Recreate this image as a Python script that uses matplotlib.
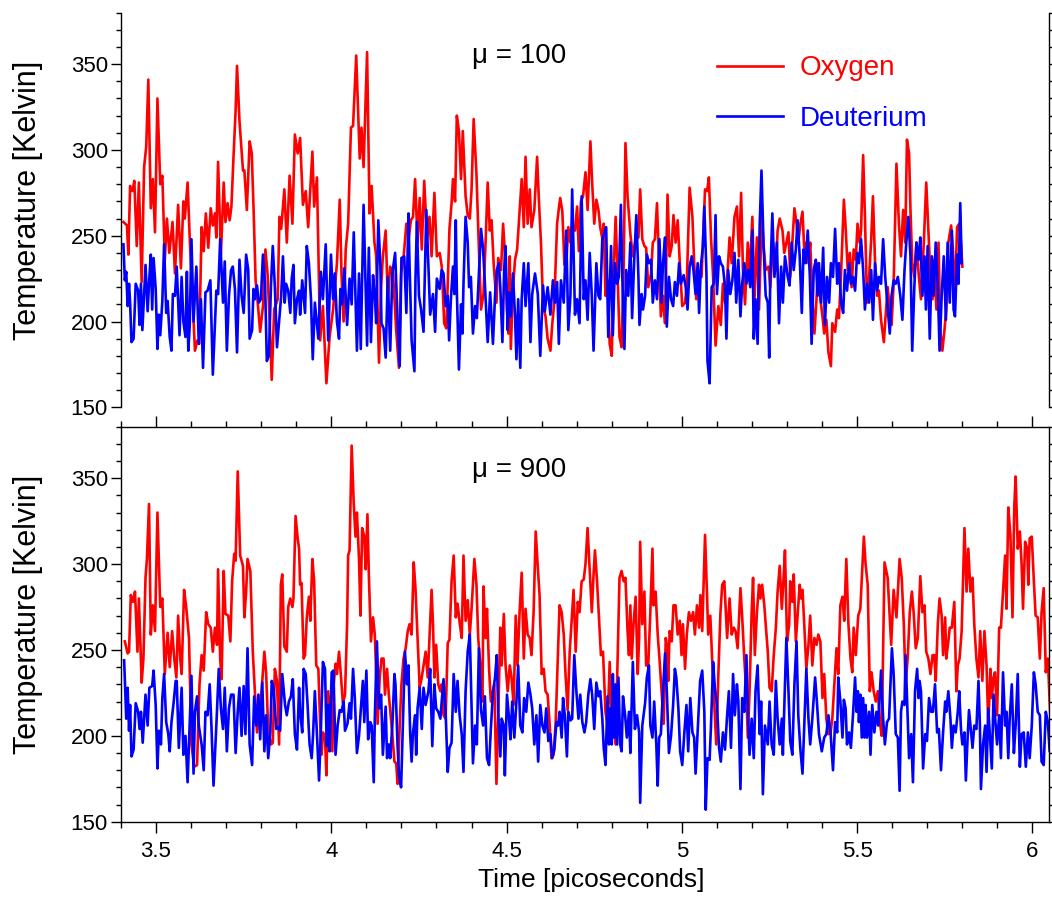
"""
Temperature traces of oxygen and deuterium vs. time, for two values of mu.
Two stacked panels sharing the time axis.
"""
import matplotlib
matplotlib.use("Agg")
import matplotlib.pyplot as plt
import numpy as np
from matplotlib.ticker import MultipleLocator

# ==========================================================================
# Data (time [ps], temperature [K])
# ==========================================================================
MU_LABELS = ["\u03bc = 100", "\u03bc = 900"]
SERIES_NAMES = ["Oxygen", "Deuterium"]
SERIES_COLORS = ["#ff0000", "#0000ff"]

# --- mu = 100 -------------------------------------------------------------
TOP_OXYGEN = [
    (3.407, 258), (3.417, 256), (3.421, 239), (3.426, 279), (3.433, 276), (3.438, 282), (3.445, 244), (3.451, 281),
    (3.459, 223), (3.466, 290), (3.472, 302), (3.478, 341), (3.485, 266), (3.491, 283), (3.497, 252), (3.504, 330),
    (3.512, 280), (3.518, 285), (3.525, 236), (3.531, 260), (3.538, 240), (3.547, 258), (3.554, 228), (3.563, 268),
    (3.571, 231), (3.578, 270), (3.582, 260), (3.590, 281), (3.596, 249), (3.611, 183), (3.618, 189), (3.623, 187),
    (3.630, 255), (3.636, 241), (3.642, 263), (3.649, 243), (3.656, 266), (3.662, 256), (3.668, 263), (3.672, 249),
    (3.677, 293), (3.685, 239), (3.693, 281), (3.698, 258), (3.704, 269), (3.710, 259), (3.715, 267), (3.721, 296),
    (3.727, 323), (3.731, 349), (3.738, 317), (3.748, 288), (3.752, 288), (3.759, 265), (3.767, 305), (3.773, 298),
    (3.778, 267), (3.784, 224), (3.790, 211), (3.797, 194), (3.805, 209), (3.812, 242), (3.818, 228), (3.824, 201),
    (3.830, 166), (3.837, 207), (3.847, 213),
    (3.852, 261), (3.857, 254), (3.866, 277), (3.873, 246), (3.881, 285), (3.889, 257), (3.896, 309), (3.904, 298),
    (3.911, 307), (3.919, 268), (3.927, 276), (3.934, 255), (3.946, 299), (3.951, 267), (3.959, 284), (3.968, 189),
    (3.976, 209), (3.986, 164), (3.995, 191), (4.005, 207), (4.016, 234), (4.024, 271), (4.029, 228), (4.035, 200),
    (4.041, 242), (4.048, 257), (4.056, 313), (4.062, 314), (4.071, 355), (4.081, 295), (4.086, 313), (4.092, 290),
    (4.102, 357), (4.109, 263), (4.115, 279), (4.123, 246), (4.128, 238), (4.136, 176), (4.142, 220), (4.147, 238),
    (4.155, 253), (4.161, 213), (4.168, 232), (4.176, 228), (4.185, 195), (4.193, 173), (4.199, 228), (4.206, 237),
    (4.214, 257), (4.221, 249), (4.227, 259), (4.233, 261), (4.239, 283), (4.246, 246), (4.252, 272), (4.258, 242),
    (4.265, 282), (4.273, 248), (4.280, 261), (4.286, 238), (4.294, 275), (4.301, 238), (4.309, 240),
    (4.315, 232), (4.322, 199), (4.328, 196), (4.334, 234), (4.337, 254), (4.343, 269), (4.347, 283), (4.353, 270),
    (4.358, 320), (4.364, 311), (4.370, 283), (4.375, 311), (4.383, 273), (4.389, 262), (4.395, 260), (4.400, 277),
    (4.406, 318), (4.414, 286), (4.421, 242), (4.427, 207), (4.434, 216), (4.440, 246), (4.446, 281), (4.452, 253),
    (4.457, 259), (4.463, 234), (4.471, 211), (4.476, 237), (4.484, 230), (4.490, 257), (4.495, 240), (4.501, 207),
    (4.505, 193), (4.509, 238), (4.512, 184), (4.518, 219), (4.524, 236), (4.530, 242), (4.535, 258), (4.543, 283),
    (4.549, 255), (4.554, 296), (4.560, 257), (4.566, 277), (4.571, 255), (4.579, 265), (4.587, 296), (4.592, 271),
    (4.598, 246), (4.604, 209), (4.611, 203), (4.617, 190), (4.625, 183), (4.630, 198), (4.636, 211), (4.644, 257),
    (4.649, 266), (4.653, 272), (4.659, 264), (4.665, 233), (4.670, 233), (4.676, 255), (4.682, 246), (4.687, 257),
    (4.695, 253), (4.701, 267), (4.706, 241), (4.712, 270), (4.718, 273), (4.725, 287), (4.731, 265), (4.739, 305),
    (4.744, 281), (4.750, 257), (4.756, 271), (4.762, 265), (4.767, 255), (4.775, 246),
    (4.777, 257), (4.782, 215), (4.788, 224), (4.794, 187), (4.800, 180), (4.805, 228), (4.811, 261), (4.817, 224),
    (4.822, 191), (4.828, 185), (4.834, 234), (4.839, 304), (4.845, 273), (4.853, 251), (4.860, 238), (4.868, 248),
    (4.876, 249), (4.881, 277), (4.887, 248), (4.893, 244), (4.898, 243), (4.904, 220), (4.912, 228), (4.917, 246),
    (4.923, 248), (4.929, 269), (4.935, 234), (4.940, 203), (4.946, 215), (4.952, 199), (4.959, 274), (4.965, 238),
    (4.971, 244), (4.976, 262), (4.982, 246), (4.988, 259), (4.995, 230), (5.001, 209), (5.009, 211), (5.014, 222),
    (5.022, 278), (5.030, 261), (5.035, 234), (5.041, 213), (5.049, 229), (5.056, 226), (5.066, 277), (5.072, 276),
    (5.077, 284), (5.083, 249), (5.089, 226), (5.096, 186), (5.104, 209), (5.111, 198), (5.117, 222), (5.123, 211),
    (5.130, 228), (5.136, 249), (5.142, 234), (5.150, 261), (5.157, 267), (5.163, 238), (5.169, 275), (5.174, 231),
    (5.180, 210), (5.188, 246), (5.193, 226), (5.201, 261), (5.207, 213), (5.214, 249), (5.220, 207), (5.228, 262),
    (5.233, 244),
    (5.239, 230), (5.247, 232), (5.252, 220), (5.260, 246), (5.268, 230), (5.273, 253), (5.279, 260), (5.287, 253),
    (5.292, 240), (5.298, 246), (5.304, 252), (5.309, 226), (5.315, 246), (5.321, 266), (5.327, 257), (5.332, 246),
    (5.338, 257), (5.344, 264), (5.349, 242), (5.355, 246), (5.361, 234), (5.366, 246), (5.372, 215), (5.378, 193),
    (5.384, 213), (5.389, 234), (5.395, 213), (5.401, 203), (5.406, 193), (5.412, 201), (5.418, 182), (5.425, 174),
    (5.429, 199), (5.437, 194), (5.443, 207), (5.448, 202), (5.454, 228), (5.462, 271), (5.467, 255), (5.473, 230),
    (5.479, 240), (5.484, 220), (5.490, 242), (5.496, 236), (5.501, 257), (5.507, 246), (5.511, 253), (5.517, 297),
    (5.522, 262), (5.528, 211), (5.534, 226), (5.540, 248), (5.545, 273), (5.551, 234), (5.557, 215), (5.562, 218),
    (5.568, 201), (5.576, 188), (5.581, 203), (5.587, 220), (5.593, 207), (5.598, 198), (5.604, 222), (5.612, 292),
    (5.619, 257), (5.625, 238), (5.631, 265), (5.637, 246), (5.642, 306), (5.648, 298), (5.652, 265), (5.657, 234),
    (5.663, 226), (5.669, 246), (5.676, 226), (5.682, 213), (5.690, 246), (5.697, 281), (5.703, 253), (5.709, 226),
    (5.715, 213), (5.720, 236), (5.726, 207), (5.732, 246), (5.737, 195), (5.743, 183), (5.749, 195), (5.754, 207),
    (5.760, 246), (5.768, 256), (5.773, 242), (5.779, 215), (5.785, 255), (5.791, 257), (5.796, 246), (5.800, 232),
]

TOP_DEUTERIUM = [
    (3.407, 245), (3.411, 224), (3.415, 229), (3.419, 209), (3.423, 222), (3.426, 211), (3.430, 188), (3.436, 190),
    (3.442, 222), (3.449, 218), (3.453, 198), (3.457, 222), (3.461, 195), (3.470, 233), (3.476, 206), (3.480, 222),
    (3.485, 239), (3.489, 207), (3.493, 237), (3.499, 219), (3.504, 184), (3.508, 204), (3.512, 192), (3.518, 212),
    (3.523, 245), (3.529, 205), (3.533, 212), (3.539, 191), (3.544, 183), (3.548, 216), (3.554, 215), (3.559, 232),
    (3.567, 192), (3.573, 226), (3.578, 200), (3.584, 191), (3.588, 229), (3.592, 183), (3.596, 197), (3.601, 248),
    (3.607, 200), (3.615, 232), (3.622, 187), (3.628, 213), (3.634, 173), (3.641, 217), (3.647, 218), (3.655, 224),
    (3.662, 169), (3.672, 218), (3.677, 216), (3.683, 248), (3.691, 211), (3.696, 235), (3.702, 183), (3.708, 215),
    (3.714, 230), (3.719, 232), (3.725, 219), (3.731, 182), (3.738, 236), (3.744, 215), (3.750, 205), (3.757, 239),
    (3.763, 230), (3.767, 190), (3.774, 195), (3.778, 219), (3.782, 213), (3.788, 221), (3.793, 211), (3.799, 213),
    (3.805, 239), (3.811, 222), (3.816, 177), (3.822, 180), (3.828, 222), (3.833, 244), (3.839, 220), (3.845, 185),
    (3.857, 215), (3.862, 238), (3.867, 211), (3.871, 222), (3.877, 218), (3.883, 205), (3.887, 225), (3.892, 233),
    (3.896, 199), (3.902, 213), (3.908, 218), (3.911, 204), (3.917, 224), (3.925, 205), (3.930, 244), (3.936, 234),
    (3.942, 213), (3.947, 178), (3.953, 211), (3.963, 190), (3.970, 229), (3.976, 213), (3.984, 245), (3.991, 189),
    (3.999, 239), (4.005, 213), (4.010, 228), (4.016, 200), (4.022, 190), (4.026, 219), (4.031, 210), (4.037, 231),
    (4.045, 198), (4.052, 225), (4.058, 210), (4.064, 252), (4.073, 183), (4.079, 228), (4.084, 184), (4.092, 268),
    (4.102, 186), (4.107, 243), (4.113, 188), (4.119, 227), (4.124, 215), (4.128, 199), (4.134, 259), (4.140, 232),
    (4.143, 199), (4.149, 196), (4.155, 179), (4.161, 226), (4.168, 183), (4.174, 228), (4.182, 240), (4.189, 201),
    (4.195, 174), (4.200, 237), (4.208, 238), (4.214, 205), (4.220, 263), (4.223, 234), (4.229, 189), (4.237, 171),
    (4.240, 224), (4.244, 258), (4.250, 215), (4.256, 207), (4.263, 194), (4.271, 265), (4.277, 232), (4.282, 204),
    (4.290, 216), (4.296, 194), (4.301, 225), (4.309, 219),
    (4.315, 230), (4.320, 228), (4.326, 209), (4.332, 215), (4.336, 189), (4.341, 213), (4.347, 232), (4.351, 216),
    (4.355, 259), (4.358, 218), (4.364, 172), (4.370, 210), (4.374, 193), (4.377, 222), (4.383, 261), (4.389, 246),
    (4.393, 220), (4.398, 226), (4.404, 193), (4.410, 209), (4.415, 202), (4.423, 236), (4.427, 254), (4.433, 242),
    (4.438, 222), (4.446, 188), (4.453, 217), (4.461, 187), (4.467, 215), (4.472, 230), (4.478, 234), (4.482, 220),
    (4.488, 188), (4.493, 230), (4.497, 244), (4.503, 195), (4.507, 217), (4.512, 203), (4.518, 228), (4.524, 203),
    (4.528, 178), (4.533, 213), (4.539, 173), (4.543, 213), (4.549, 234), (4.554, 209), (4.562, 234), (4.568, 188),
    (4.573, 216), (4.581, 228), (4.589, 216), (4.596, 180), (4.604, 221), (4.609, 206), (4.617, 220), (4.625, 204),
    (4.632, 224), (4.638, 211), (4.644, 223), (4.649, 187), (4.655, 224), (4.663, 211), (4.670, 253), (4.676, 195),
    (4.682, 215), (4.687, 277), (4.695, 204), (4.701, 213), (4.708, 199), (4.714, 273), (4.720, 213), (4.725, 224),
    (4.731, 201), (4.737, 240), (4.743, 215), (4.748, 183), (4.756, 234), (4.762, 215), (4.767, 213), (4.773, 248),
    (4.784, 255), (4.790, 191), (4.798, 244), (4.803, 192), (4.809, 234), (4.815, 222), (4.820, 226), (4.826, 268),
    (4.830, 226), (4.836, 184), (4.841, 230), (4.847, 215), (4.853, 246), (4.858, 202), (4.864, 236), (4.870, 262),
    (4.876, 226), (4.879, 198), (4.885, 216), (4.889, 207), (4.895, 215), (4.900, 239), (4.906, 234), (4.912, 236),
    (4.917, 211), (4.923, 224), (4.929, 213), (4.936, 248), (4.942, 211), (4.946, 234), (4.952, 249), (4.957, 197),
    (4.963, 226), (4.969, 213), (4.975, 209), (4.980, 223), (4.986, 215), (4.992, 234), (4.997, 222), (5.005, 227),
    (5.011, 220), (5.016, 207), (5.022, 232), (5.028, 238), (5.033, 230), (5.039, 216), (5.045, 234), (5.049, 205),
    (5.054, 232), (5.060, 244), (5.064, 267), (5.070, 228), (5.073, 177), (5.079, 164), (5.085, 220), (5.091, 222),
    (5.096, 262), (5.100, 216), (5.106, 238), (5.111, 234), (5.117, 232), (5.123, 220), (5.127, 190), (5.132, 230),
    (5.138, 216), (5.144, 224), (5.150, 240), (5.155, 211), (5.161, 236), (5.167, 203), (5.172, 222), (5.178, 234),
    (5.184, 222), (5.189, 230), (5.195, 220), (5.201, 253), (5.205, 190), (5.210, 213), (5.216, 187), (5.222, 257),
    (5.227, 288), (5.233, 244),
    (5.239, 215), (5.245, 211), (5.249, 179), (5.252, 225), (5.258, 263), (5.264, 226), (5.271, 246), (5.277, 199),
    (5.283, 232), (5.288, 211), (5.294, 238), (5.302, 226), (5.307, 221), (5.313, 246), (5.319, 230), (5.325, 242),
    (5.330, 259), (5.336, 238), (5.342, 205), (5.347, 242), (5.353, 234), (5.359, 253), (5.365, 226), (5.370, 187),
    (5.376, 230), (5.382, 236), (5.387, 215), (5.391, 234), (5.397, 211), (5.403, 243), (5.408, 198), (5.414, 226),
    (5.420, 211), (5.425, 234), (5.431, 226), (5.437, 254), (5.443, 222), (5.448, 234), (5.454, 211), (5.460, 205),
    (5.465, 230), (5.471, 218), (5.477, 234), (5.482, 222), (5.488, 226), (5.494, 218), (5.500, 240), (5.505, 234),
    (5.511, 248), (5.517, 230), (5.522, 207), (5.528, 222), (5.534, 211), (5.540, 230), (5.545, 201), (5.551, 234),
    (5.557, 218), (5.562, 226), (5.568, 222), (5.574, 248), (5.580, 226), (5.585, 213), (5.593, 193), (5.598, 215),
    (5.604, 224), (5.610, 222), (5.616, 226), (5.623, 215), (5.629, 201), (5.635, 230), (5.640, 246), (5.646, 261),
    (5.652, 238), (5.657, 183), (5.663, 220), (5.669, 246), (5.675, 236), (5.680, 249), (5.686, 215), (5.692, 238),
    (5.696, 207), (5.701, 244), (5.707, 190), (5.713, 238), (5.718, 215), (5.724, 246), (5.730, 220), (5.735, 183),
    (5.741, 215), (5.747, 238), (5.753, 201), (5.758, 246), (5.764, 211), (5.770, 253), (5.775, 207), (5.779, 203),
    (5.785, 239), (5.789, 222), (5.794, 269), (5.798, 234),
]

# --- mu = 900 -------------------------------------------------------------
BOTTOM_OXYGEN = [
    (3.411, 255), (3.419, 248), (3.423, 249), (3.428, 282), (3.434, 278), (3.440, 284), (3.447, 249), (3.451, 280),
    (3.459, 231), (3.464, 245), (3.470, 292), (3.474, 303), (3.480, 335), (3.485, 259), (3.491, 276), (3.497, 261),
    (3.504, 330), (3.512, 275), (3.518, 280), (3.525, 236), (3.533, 260), (3.539, 240), (3.546, 261), (3.552, 245),
    (3.558, 234), (3.563, 270), (3.569, 245), (3.573, 236), (3.580, 285), (3.586, 275), (3.594, 257), (3.601, 195),
    (3.609, 182), (3.617, 183), (3.624, 230), (3.630, 247), (3.636, 238), (3.643, 272), (3.649, 265), (3.656, 263),
    (3.662, 249), (3.668, 263), (3.674, 253), (3.677, 297), (3.683, 245), (3.687, 233), (3.693, 296), (3.698, 271),
    (3.706, 270), (3.712, 255), (3.717, 290), (3.723, 306), (3.727, 302), (3.733, 354), (3.740, 305), (3.748, 299),
    (3.752, 269), (3.757, 284), (3.761, 303), (3.769, 296), (3.776, 249), (3.782, 226), (3.788, 202), (3.795, 215),
    (3.801, 226), (3.809, 249), (3.814, 237), (3.820, 203), (3.828, 195), (3.833, 196), (3.839, 239), (3.845, 232),
    (3.851, 195), (3.856, 288), (3.860, 294),
    (3.866, 252), (3.873, 249), (3.877, 275), (3.883, 280), (3.889, 275), (3.892, 280), (3.898, 328), (3.904, 315),
    (3.908, 309), (3.911, 288), (3.915, 289), (3.921, 245), (3.925, 247), (3.930, 269), (3.936, 281), (3.940, 267),
    (3.946, 303), (3.951, 290), (3.957, 241), (3.963, 239), (3.967, 214), (3.972, 189), (3.976, 202), (3.982, 199),
    (3.986, 177), (3.991, 226), (3.997, 210), (4.003, 191), (4.006, 228), (4.012, 242), (4.016, 236), (4.022, 249),
    (4.027, 236), (4.033, 219), (4.039, 224), (4.045, 265), (4.048, 305), (4.052, 308), (4.058, 369), (4.064, 335),
    (4.069, 316), (4.073, 330), (4.079, 303), (4.083, 270), (4.088, 321), (4.094, 316), (4.098, 297), (4.103, 329),
    (4.107, 294), (4.113, 255), (4.119, 269), (4.124, 259), (4.128, 236), (4.132, 207), (4.138, 234), (4.143, 245),
    (4.149, 245), (4.153, 224), (4.159, 239), (4.164, 224), (4.170, 210), (4.174, 201), (4.180, 185), (4.185, 184),
    (4.189, 172), (4.195, 206), (4.200, 230), (4.206, 245), (4.212, 251), (4.218, 261), (4.223, 265), (4.229, 259),
    (4.235, 301), (4.240, 286), (4.246, 257), (4.252, 228), (4.258, 234), (4.263, 241), (4.269, 249), (4.275, 234),
    (4.280, 257), (4.286, 285), (4.290, 265), (4.294, 234), (4.299, 253), (4.305, 230), (4.311, 226),
    (4.315, 230), (4.320, 212), (4.326, 210), (4.332, 254), (4.337, 256), (4.343, 290), (4.349, 305), (4.355, 269),
    (4.360, 277), (4.366, 266), (4.372, 257), (4.377, 305), (4.383, 267), (4.389, 279), (4.395, 259), (4.400, 274),
    (4.408, 303), (4.414, 288), (4.419, 257), (4.425, 241), (4.431, 220), (4.434, 287), (4.440, 257), (4.444, 274),
    (4.450, 239), (4.455, 220), (4.459, 224), (4.465, 230), (4.471, 172), (4.476, 210), (4.482, 263), (4.486, 241),
    (4.492, 271), (4.497, 241), (4.503, 226), (4.509, 241), (4.514, 234), (4.520, 218), (4.526, 270), (4.531, 241),
    (4.537, 272), (4.543, 295), (4.549, 245), (4.554, 274), (4.560, 259), (4.566, 257), (4.571, 247), (4.577, 272),
    (4.583, 319), (4.589, 298), (4.594, 282), (4.600, 236), (4.606, 239), (4.611, 226), (4.617, 224), (4.623, 206),
    (4.628, 187), (4.634, 189), (4.640, 208), (4.646, 245), (4.651, 276), (4.657, 272), (4.663, 259), (4.668, 236),
    (4.674, 215), (4.680, 249), (4.686, 269), (4.691, 285), (4.697, 249), (4.703, 278), (4.708, 272), (4.714, 290),
    (4.720, 291), (4.725, 300), (4.731, 321), (4.737, 296), (4.743, 272), (4.748, 294), (4.752, 308), (4.758, 290),
    (4.764, 267), (4.769, 247), (4.775, 249),
    (4.782, 214), (4.788, 206), (4.794, 243), (4.800, 206), (4.805, 210), (4.811, 195), (4.817, 247), (4.822, 292),
    (4.828, 296), (4.834, 290), (4.839, 292), (4.845, 261), (4.849, 247), (4.853, 276), (4.857, 245), (4.862, 265),
    (4.868, 281), (4.874, 236), (4.878, 257), (4.881, 313), (4.887, 265), (4.893, 284), (4.898, 241), (4.904, 241),
    (4.910, 272), (4.916, 309), (4.919, 276), (4.925, 284), (4.931, 259), (4.936, 245), (4.942, 226), (4.948, 207),
    (4.954, 257), (4.957, 253), (4.961, 232), (4.965, 261), (4.971, 255), (4.976, 276), (4.982, 276), (4.988, 259),
    (4.994, 267), (4.999, 247), (5.003, 265), (5.009, 239), (5.014, 259), (5.020, 272), (5.026, 267), (5.032, 272),
    (5.037, 259), (5.043, 276), (5.049, 263), (5.053, 282), (5.058, 261), (5.066, 317), (5.072, 280), (5.075, 259),
    (5.081, 270), (5.087, 241), (5.092, 220), (5.098, 195), (5.104, 236), (5.110, 272), (5.115, 288), (5.121, 290),
    (5.129, 257), (5.136, 280), (5.142, 259), (5.148, 263), (5.153, 261), (5.159, 251), (5.167, 286), (5.172, 269),
    (5.178, 245), (5.184, 224), (5.188, 199), (5.193, 226), (5.199, 272), (5.203, 292), (5.208, 247), (5.214, 272),
    (5.220, 288), (5.224, 280), (5.229, 288), (5.235, 276),
    (5.245, 249), (5.250, 228), (5.256, 226), (5.262, 247), (5.268, 263), (5.273, 284), (5.279, 299), (5.285, 274),
    (5.290, 292), (5.294, 308), (5.300, 255), (5.306, 265), (5.309, 290), (5.315, 278), (5.319, 294), (5.325, 255),
    (5.330, 270), (5.336, 288), (5.340, 280), (5.344, 285), (5.349, 265), (5.355, 239), (5.361, 253), (5.366, 270),
    (5.372, 241), (5.378, 257), (5.384, 253), (5.389, 259), (5.395, 255), (5.401, 222), (5.406, 236), (5.412, 210),
    (5.418, 201), (5.424, 202), (5.429, 210), (5.435, 230), (5.441, 251), (5.446, 236), (5.452, 276), (5.458, 281),
    (5.463, 267), (5.469, 303), (5.475, 265), (5.481, 245), (5.486, 237), (5.490, 263), (5.496, 247), (5.503, 270),
    (5.509, 274), (5.519, 316), (5.524, 300), (5.530, 288), (5.536, 226), (5.541, 237), (5.547, 226), (5.553, 220),
    (5.559, 226), (5.564, 209), (5.570, 200), (5.578, 301), (5.587, 292), (5.597, 253), (5.604, 285), (5.612, 269),
    (5.621, 303), (5.627, 292), (5.633, 265), (5.638, 230), (5.644, 245), (5.650, 272), (5.656, 284), (5.661, 272),
    (5.667, 251), (5.673, 257), (5.680, 293), (5.686, 272), (5.692, 276), (5.697, 249), (5.703, 245), (5.709, 236),
    (5.715, 247), (5.720, 247), (5.724, 232), (5.730, 265), (5.735, 280), (5.741, 270), (5.745, 247), (5.751, 269),
    (5.754, 245), (5.760, 255), (5.764, 263), (5.770, 263), (5.777, 278), (5.783, 226), (5.787, 241), (5.792, 245),
    (5.798, 261), (5.806, 321), (5.812, 284), (5.817, 309), (5.823, 284), (5.829, 292), (5.834, 265), (5.840, 245),
    (5.846, 234), (5.851, 261), (5.857, 232), (5.863, 261), (5.869, 241), (5.874, 206), (5.880, 239), (5.884, 222),
    (5.889, 234), (5.893, 237), (5.899, 212), (5.905, 263), (5.910, 263), (5.916, 284), (5.922, 305), (5.926, 274),
    (5.931, 333), (5.937, 317), (5.943, 269), (5.948, 333), (5.952, 351), (5.958, 309), (5.964, 319), (5.969, 300),
    (5.973, 274), (5.979, 313), (5.985, 309), (5.988, 288), (5.992, 315), (5.998, 316), (6.004, 290), (6.009, 270),
    (6.015, 269), (6.021, 245), (6.026, 272), (6.032, 286), (6.038, 237), (6.044, 245), (6.049, 220), (6.054, 199),
]

BOTTOM_DEUTERIUM = [
    (3.409, 244), (3.415, 210), (3.419, 228), (3.423, 203), (3.426, 218), (3.430, 188), (3.436, 192), (3.442, 219),
    (3.449, 214), (3.453, 204), (3.457, 214), (3.462, 196), (3.470, 224), (3.476, 206), (3.481, 228), (3.489, 229),
    (3.493, 238), (3.499, 218), (3.504, 181), (3.508, 203), (3.514, 195), (3.518, 222), (3.523, 236), (3.529, 208),
    (3.535, 201), (3.539, 191), (3.544, 208), (3.550, 219), (3.556, 232), (3.559, 232), (3.565, 193), (3.573, 228),
    (3.578, 189), (3.584, 200), (3.590, 173), (3.596, 206), (3.601, 235), (3.607, 178), (3.611, 214), (3.617, 223),
    (3.622, 206), (3.630, 195), (3.636, 180), (3.641, 214), (3.647, 212), (3.653, 230), (3.658, 206), (3.664, 171),
    (3.672, 206), (3.679, 239), (3.685, 216), (3.691, 204), (3.696, 228), (3.702, 191), (3.708, 216), (3.714, 224),
    (3.721, 224), (3.727, 190), (3.733, 214), (3.738, 228), (3.744, 200), (3.750, 229), (3.755, 201), (3.761, 251),
    (3.767, 195), (3.774, 183), (3.780, 223), (3.786, 206), (3.792, 224), (3.797, 198), (3.803, 231), (3.809, 191),
    (3.814, 212), (3.820, 187), (3.826, 202), (3.830, 232), (3.835, 228), (3.843, 204), (3.849, 205), (3.854, 203),
    (3.860, 236),
    (3.868, 218), (3.873, 212), (3.879, 220), (3.885, 223), (3.890, 233), (3.896, 201), (3.902, 192), (3.908, 228),
    (3.911, 214), (3.917, 202), (3.921, 239), (3.927, 236), (3.932, 219), (3.938, 195), (3.944, 187), (3.948, 201),
    (3.953, 226), (3.959, 201), (3.965, 174), (3.970, 202), (3.976, 243), (3.982, 239), (3.987, 194), (3.991, 218),
    (3.995, 191), (4.001, 237), (4.006, 238), (4.012, 189), (4.018, 206), (4.024, 215), (4.029, 214), (4.035, 220),
    (4.039, 203), (4.046, 207), (4.052, 219), (4.056, 210), (4.062, 239), (4.067, 222), (4.073, 190), (4.079, 200),
    (4.084, 215), (4.090, 232), (4.094, 208), (4.100, 238), (4.105, 198), (4.111, 208), (4.115, 206), (4.121, 173),
    (4.124, 210), (4.130, 255), (4.136, 216), (4.142, 224), (4.147, 189), (4.155, 217), (4.159, 187), (4.164, 195),
    (4.168, 187), (4.174, 206), (4.180, 236), (4.183, 230), (4.189, 194), (4.193, 177), (4.199, 170), (4.204, 206),
    (4.210, 249), (4.216, 230), (4.220, 241), (4.225, 201), (4.229, 185), (4.233, 202), (4.239, 212), (4.242, 189),
    (4.246, 216), (4.252, 228), (4.258, 204), (4.263, 228), (4.269, 218), (4.277, 226), (4.282, 239), (4.288, 194),
    (4.294, 230), (4.299, 216), (4.305, 214), (4.311, 210),
    (4.315, 220), (4.320, 233), (4.326, 214), (4.332, 179), (4.337, 193), (4.343, 196), (4.349, 236), (4.355, 214),
    (4.360, 232), (4.366, 212), (4.372, 201), (4.377, 179), (4.383, 226), (4.389, 249), (4.395, 259), (4.398, 234),
    (4.404, 184), (4.410, 206), (4.415, 195), (4.421, 251), (4.427, 215), (4.433, 206), (4.438, 223), (4.444, 187),
    (4.450, 183), (4.455, 204), (4.461, 225), (4.467, 234), (4.472, 247), (4.476, 214), (4.482, 188), (4.486, 210),
    (4.492, 206), (4.495, 177), (4.501, 224), (4.507, 210), (4.511, 198), (4.516, 220), (4.522, 199), (4.528, 220),
    (4.533, 241), (4.539, 206), (4.545, 202), (4.550, 222), (4.556, 214), (4.562, 231), (4.568, 224), (4.573, 216),
    (4.579, 195), (4.585, 212), (4.590, 185), (4.596, 218), (4.602, 206), (4.608, 202), (4.613, 216), (4.619, 197),
    (4.625, 201), (4.630, 187), (4.636, 192), (4.642, 208), (4.647, 206), (4.651, 214), (4.657, 199), (4.661, 222),
    (4.666, 212), (4.672, 188), (4.676, 214), (4.682, 209), (4.687, 210), (4.693, 247), (4.699, 226), (4.705, 210),
    (4.710, 224), (4.716, 208), (4.722, 202), (4.727, 208), (4.733, 224), (4.739, 233), (4.744, 224), (4.750, 204),
    (4.756, 231), (4.762, 223), (4.767, 226), (4.773, 210),
    (4.777, 193), (4.782, 183), (4.788, 223), (4.792, 195), (4.796, 216), (4.800, 195), (4.803, 236), (4.807, 199),
    (4.811, 230), (4.815, 195), (4.819, 234), (4.824, 195), (4.828, 191), (4.832, 223), (4.838, 212), (4.843, 199),
    (4.849, 214), (4.853, 190), (4.860, 243), (4.866, 204), (4.872, 212), (4.878, 202), (4.881, 161), (4.887, 206),
    (4.895, 219), (4.900, 234), (4.906, 241), (4.910, 206), (4.916, 199), (4.921, 220), (4.927, 195), (4.931, 171),
    (4.935, 199), (4.940, 201), (4.946, 226), (4.952, 248), (4.957, 226), (4.963, 190), (4.969, 200), (4.975, 218),
    (4.980, 239), (4.984, 234), (4.990, 216), (4.995, 191), (5.001, 183), (5.007, 202), (5.013, 218), (5.018, 191),
    (5.024, 222), (5.030, 202), (5.035, 199), (5.039, 178), (5.047, 212), (5.052, 232), (5.058, 238), (5.064, 214),
    (5.068, 157), (5.073, 187), (5.079, 186), (5.083, 206), (5.089, 243), (5.094, 228), (5.100, 218), (5.106, 193),
    (5.111, 185), (5.117, 202), (5.123, 192), (5.129, 212), (5.134, 226), (5.140, 193), (5.146, 236), (5.151, 212),
    (5.157, 230), (5.161, 220), (5.167, 169), (5.172, 222), (5.178, 214), (5.184, 247), (5.189, 210), (5.193, 189),
    (5.199, 210), (5.205, 187), (5.210, 226), (5.216, 241), (5.222, 201), (5.226, 220), (5.231, 166), (5.237, 206),
    (5.245, 195), (5.250, 220), (5.256, 195), (5.262, 189), (5.268, 232), (5.273, 210), (5.279, 195), (5.285, 210),
    (5.288, 189), (5.294, 230), (5.298, 257), (5.304, 226), (5.309, 197), (5.315, 189), (5.321, 230), (5.327, 255),
    (5.332, 212), (5.338, 192), (5.344, 178), (5.349, 206), (5.355, 239), (5.361, 210), (5.366, 195), (5.372, 210),
    (5.380, 234), (5.385, 220), (5.391, 201), (5.399, 191), (5.406, 199), (5.412, 201), (5.418, 212), (5.424, 202),
    (5.431, 180), (5.437, 208), (5.443, 202), (5.446, 234), (5.452, 220), (5.458, 199), (5.462, 221), (5.467, 216),
    (5.471, 195), (5.477, 202), (5.482, 193), (5.488, 212), (5.494, 234), (5.498, 214), (5.502, 226), (5.505, 208),
    (5.509, 224), (5.513, 199), (5.517, 222), (5.521, 199), (5.524, 218), (5.528, 199), (5.534, 214), (5.538, 189),
    (5.543, 218), (5.549, 202), (5.555, 214), (5.560, 206), (5.568, 238), (5.574, 210), (5.579, 195), (5.585, 208),
    (5.591, 210), (5.599, 251), (5.604, 236), (5.610, 201), (5.616, 199),
    (5.621, 168), (5.625, 214), (5.629, 220), (5.635, 218), (5.638, 247), (5.644, 212), (5.648, 187), (5.654, 201),
    (5.659, 173), (5.665, 226), (5.671, 239), (5.675, 222), (5.678, 232), (5.682, 226), (5.688, 181), (5.694, 201),
    (5.699, 197), (5.705, 222), (5.711, 214), (5.716, 214), (5.722, 230), (5.728, 202), (5.733, 204), (5.739, 180),
    (5.745, 202), (5.751, 220), (5.754, 214), (5.760, 226), (5.766, 210), (5.770, 193), (5.775, 206), (5.781, 202),
    (5.787, 214), (5.791, 226), (5.796, 204), (5.800, 195), (5.806, 202), (5.810, 174), (5.815, 199), (5.819, 215),
    (5.825, 202), (5.829, 193), (5.834, 206), (5.840, 204), (5.846, 232), (5.850, 206), (5.853, 169), (5.859, 195),
    (5.865, 206), (5.869, 179), (5.874, 216), (5.880, 195), (5.884, 181), (5.889, 224), (5.895, 206), (5.899, 195),
    (5.905, 212), (5.910, 187), (5.916, 237), (5.922, 206), (5.926, 214), (5.931, 187), (5.935, 210), (5.941, 230),
    (5.947, 190), (5.952, 206), (5.958, 236), (5.964, 182), (5.969, 201), (5.975, 202), (5.981, 182), (5.987, 202),
    (5.992, 187), (5.998, 206), (6.004, 237), (6.009, 230), (6.015, 214), (6.021, 212), (6.026, 185), (6.032, 183),
    (6.038, 214), (6.044, 208), (6.049, 191), (6.054, 201),
]

X_LIMITS = (3.4, 6.047)
Y_LIMITS = (150, 380)
X_TICKS = [3.5, 4, 4.5, 5, 5.5, 6]
X_TICK_LABELS = ["3.5", "4", "4.5", "5", "5.5", "6"]
Y_TICKS = [150, 200, 250, 300, 350]


# ==========================================================================
# Helpers
# ==========================================================================
def unpack(pairs):
    arr = np.array(pairs, dtype=float)
    return arr[:, 0], arr[:, 1]


def style_axes(ax, show_x_labels):
    ax.set_xlim(*X_LIMITS)
    ax.set_ylim(*Y_LIMITS)
    ax.set_yticks(Y_TICKS)
    ax.yaxis.set_minor_locator(MultipleLocator(10))
    ax.set_xticks(X_TICKS)
    ax.xaxis.set_minor_locator(MultipleLocator(0.1))

    ax.tick_params(axis="y", which="major", direction="out", length=7, width=1,
                   left=True, right=True, labelsize=16, pad=2.5)
    ax.tick_params(axis="y", which="minor", direction="out", length=3.5, width=1,
                   left=True, right=True)
    for sp in ax.spines.values():
        sp.set_linewidth(1.0)

    if show_x_labels:
        ax.set_xticklabels(X_TICK_LABELS)
        ax.tick_params(axis="x", which="major", direction="out", length=8, width=1,
                       bottom=True, top=True, labelsize=16, pad=6)
        ax.tick_params(axis="x", which="minor", direction="out", length=4, width=1,
                       bottom=True, top=True)
    else:
        # upper panel: no horizontal frame, no time ticks
        ax.spines["top"].set_visible(False)
        ax.spines["bottom"].set_visible(False)
        ax.tick_params(axis="x", which="both", bottom=False, top=False,
                       labelbottom=False)

    ax.set_ylabel("Temperature [Kelvin]", fontsize=22)
    ax.yaxis.set_label_coords(-0.084, 0.525)


# ==========================================================================
# Plot
# ==========================================================================
def main():
    plt.rcParams["font.family"] = ["Liberation Sans", "DejaVu Sans"]

    fig = plt.figure(figsize=(10.52, 9.11), dpi=100)
    ax_top = fig.add_axes([0.1150, 0.5529, 0.8821, 0.4332])
    ax_bot = fig.add_axes([0.1150, 0.0980, 0.8821, 0.4336])

    panels = [
        (ax_top, TOP_OXYGEN, TOP_DEUTERIUM, MU_LABELS[0]),
        (ax_bot, BOTTOM_OXYGEN, BOTTOM_DEUTERIUM, MU_LABELS[1]),
    ]
    for ax, oxy, deu, mu_label in panels:
        for pairs, name, color in zip([oxy, deu], SERIES_NAMES, SERIES_COLORS):
            t, temp = unpack(pairs)
            ax.plot(t, temp, color=color, linewidth=1.9, label=name)
        ax.text(0.378, 0.89, mu_label, transform=ax.transAxes,
                fontsize=20, ha="left", va="center")

    style_axes(ax_top, show_x_labels=False)
    style_axes(ax_bot, show_x_labels=True)

    ax_bot.set_xlabel("Time [picoseconds]", fontsize=19)
    ax_bot.xaxis.set_label_coords(0.507, -0.118)

    ax_top.legend(
        loc="upper left", bbox_to_anchor=(0.642, 0.892),
        frameon=False, fontsize=20, handlelength=2.4, handletextpad=0.6,
        labelspacing=0.88, borderpad=0, borderaxespad=0, labelcolor="linecolor",
    )

    fig.savefig("out.png", dpi=100)
    plt.close(fig)


if __name__ == "__main__":
    main()
